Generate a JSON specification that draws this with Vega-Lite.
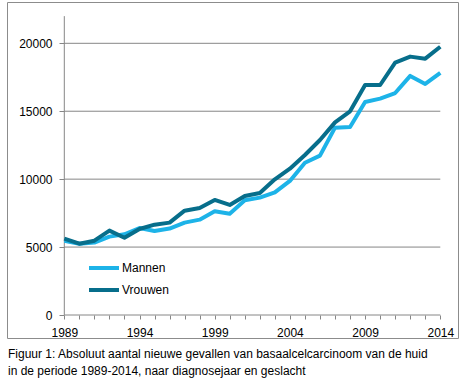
{
  "$schema": "https://vega.github.io/schema/vega-lite/v6.json",
  "width": 451,
  "height": 336,
  "autosize": {"type": "none"},
  "padding": {"left": 7, "top": 2, "right": 10, "bottom": 47},
  "background": "white",
  "config": {
    "view": {"stroke": "#8c8c8c", "strokeWidth": 1},
    "font": "Liberation Sans"
  },
  "title": {
    "text": ["Figuur 1: Absoluut aantal nieuwe gevallen van basaalcelcarcinoom van de huid", "in de periode 1989-2014, naar diagnosejaar en geslacht"],
    "orient": "bottom",
    "anchor": "start",
    "frame": "group",
    "font": "Liberation Sans",
    "fontSize": 12,
    "fontWeight": "normal",
    "color": "#000000",
    "lineHeight": 17,
    "offset": 11,
    "dx": 1
  },
  "resolve": {"axis": {"x": "independent", "y": "independent"}},
  "layer": [
    {
      "data": {"values": [{"v": 0}, {"v": 5000}, {"v": 10000}, {"v": 15000}, {"v": 20000}]},
      "mark": {"type": "rule", "color": "#868686", "strokeWidth": 1},
      "encoding": {
        "y": {"field": "v", "type": "quantitative", "axis": null, "scale": {"domain": [-1693, 23040], "nice": false, "zero": false}},
        "x": {"datum": 1989, "type": "quantitative", "axis": null, "scale": {"domain": [1985.19, 2015.177], "nice": false, "zero": false}},
        "x2": {"datum": 2014}
      }
    },
    {
      "data": {"values": [{"axis": "y"}]},
      "mark": {"type": "rule", "color": "#868686", "strokeWidth": 1},
      "encoding": {
        "x": {"datum": 1989, "type": "quantitative", "axis": null},
        "y": {"datum": 0, "type": "quantitative", "axis": null},
        "y2": {"datum": 22000}
      }
    },
    {
      "data": {
        "values": [
          {"jaar": 1989, "geslacht": "Mannen", "aantal": 5470},
          {"jaar": 1990, "geslacht": "Mannen", "aantal": 5250},
          {"jaar": 1991, "geslacht": "Mannen", "aantal": 5330},
          {"jaar": 1992, "geslacht": "Mannen", "aantal": 5770},
          {"jaar": 1993, "geslacht": "Mannen", "aantal": 5940},
          {"jaar": 1994, "geslacht": "Mannen", "aantal": 6400},
          {"jaar": 1995, "geslacht": "Mannen", "aantal": 6180},
          {"jaar": 1996, "geslacht": "Mannen", "aantal": 6360},
          {"jaar": 1997, "geslacht": "Mannen", "aantal": 6800},
          {"jaar": 1998, "geslacht": "Mannen", "aantal": 7020},
          {"jaar": 1999, "geslacht": "Mannen", "aantal": 7630},
          {"jaar": 2000, "geslacht": "Mannen", "aantal": 7460},
          {"jaar": 2001, "geslacht": "Mannen", "aantal": 8440},
          {"jaar": 2002, "geslacht": "Mannen", "aantal": 8640},
          {"jaar": 2003, "geslacht": "Mannen", "aantal": 9030},
          {"jaar": 2004, "geslacht": "Mannen", "aantal": 9870},
          {"jaar": 2005, "geslacht": "Mannen", "aantal": 11210},
          {"jaar": 2006, "geslacht": "Mannen", "aantal": 11730},
          {"jaar": 2007, "geslacht": "Mannen", "aantal": 13790},
          {"jaar": 2008, "geslacht": "Mannen", "aantal": 13840},
          {"jaar": 2009, "geslacht": "Mannen", "aantal": 15680},
          {"jaar": 2010, "geslacht": "Mannen", "aantal": 15930},
          {"jaar": 2011, "geslacht": "Mannen", "aantal": 16340},
          {"jaar": 2012, "geslacht": "Mannen", "aantal": 17600},
          {"jaar": 2013, "geslacht": "Mannen", "aantal": 17010},
          {"jaar": 2014, "geslacht": "Mannen", "aantal": 17820},
          {"jaar": 1989, "geslacht": "Vrouwen", "aantal": 5620},
          {"jaar": 1990, "geslacht": "Vrouwen", "aantal": 5250},
          {"jaar": 1991, "geslacht": "Vrouwen", "aantal": 5470},
          {"jaar": 1992, "geslacht": "Vrouwen", "aantal": 6210},
          {"jaar": 1993, "geslacht": "Vrouwen", "aantal": 5690},
          {"jaar": 1994, "geslacht": "Vrouwen", "aantal": 6330},
          {"jaar": 1995, "geslacht": "Vrouwen", "aantal": 6650},
          {"jaar": 1996, "geslacht": "Vrouwen", "aantal": 6800},
          {"jaar": 1997, "geslacht": "Vrouwen", "aantal": 7680},
          {"jaar": 1998, "geslacht": "Vrouwen", "aantal": 7880},
          {"jaar": 1999, "geslacht": "Vrouwen", "aantal": 8470},
          {"jaar": 2000, "geslacht": "Vrouwen", "aantal": 8100},
          {"jaar": 2001, "geslacht": "Vrouwen", "aantal": 8760},
          {"jaar": 2002, "geslacht": "Vrouwen", "aantal": 8980},
          {"jaar": 2003, "geslacht": "Vrouwen", "aantal": 9990},
          {"jaar": 2004, "geslacht": "Vrouwen", "aantal": 10770},
          {"jaar": 2005, "geslacht": "Vrouwen", "aantal": 11780},
          {"jaar": 2006, "geslacht": "Vrouwen", "aantal": 12880},
          {"jaar": 2007, "geslacht": "Vrouwen", "aantal": 14180},
          {"jaar": 2008, "geslacht": "Vrouwen", "aantal": 14990},
          {"jaar": 2009, "geslacht": "Vrouwen", "aantal": 16930},
          {"jaar": 2010, "geslacht": "Vrouwen", "aantal": 16930},
          {"jaar": 2011, "geslacht": "Vrouwen", "aantal": 18580},
          {"jaar": 2012, "geslacht": "Vrouwen", "aantal": 19020},
          {"jaar": 2013, "geslacht": "Vrouwen", "aantal": 18870},
          {"jaar": 2014, "geslacht": "Vrouwen", "aantal": 19750}
        ]
      },
      "mark": {"type": "line", "strokeWidth": 4, "strokeJoin": "round"},
      "encoding": {
        "x": {
          "field": "jaar", "type": "quantitative",
          "scale": {"domain": [1985.19, 2015.177], "nice": false, "zero": false},
          "axis": {
            "title": null, "orient": "bottom", "offset": -23, "domain": false, "grid": false,
            "values": [1989,1990,1991,1992,1993,1994,1995,1996,1997,1998,1999,2000,2001,2002,2003,2004,2005,2006,2007,2008,2009,2010,2011,2012,2013,2014],
            "format": "d",
            "labelExpr": "(datum.value - 1989) % 5 == 0 ? datum.value : ''",
            "tickSize": 4, "tickColor": "#868686", "tickWidth": 1,
            "labelFont": "Liberation Sans", "labelFontSize": 12, "labelColor": "#000000",
            "labelPadding": 8, "labelOverlap": false, "labelBound": false, "labelFlush": false,
            "encode": {"labels": {"update": {"dx": {"signal": "7 - (datum.value - 1989) * 0.6"}}}}
          }
        },
        "y": {
          "field": "aantal", "type": "quantitative",
          "scale": {"domain": [-1693, 23040], "nice": false, "zero": false},
          "axis": {
            "title": null, "orient": "left", "offset": -57, "domain": false, "grid": false,
            "values": [0, 5000, 10000, 15000, 20000],
            "format": "d",
            "tickSize": 5, "tickColor": "#868686", "tickWidth": 1,
            "labelFont": "Liberation Sans", "labelFontSize": 12, "labelColor": "#000000",
            "labelPadding": 7, "labelOverlap": false, "labelBound": false, "labelFlush": false
          }
        },
        "color": {
          "field": "geslacht", "type": "nominal",
          "scale": {"domain": ["Mannen", "Vrouwen"], "range": ["#1db3e8", "#076e8b"]},
          "legend": {
            "title": null, "orient": "none", "legendX": 85, "legendY": 254,
            "symbolType": "M-1.5,0H1.5", "symbolSize": 400, "symbolStrokeWidth": 4,
            "labelFont": "Liberation Sans", "labelFontSize": 12, "labelColor": "#000000",
            "labelOffset": 6, "rowPadding": 2, "padding": 0
          }
        }
      }
    }
  ]
}
